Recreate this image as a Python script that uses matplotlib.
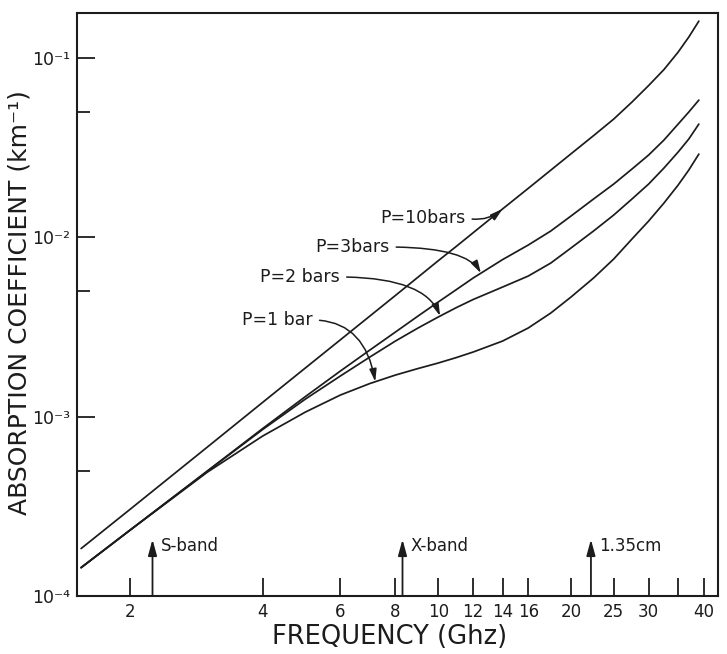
import numpy as np
import matplotlib
matplotlib.use("Agg")
import matplotlib.pyplot as plt
from matplotlib.ticker import FixedLocator, FixedFormatter, NullLocator

# Absorption coefficient (km^-1) versus frequency (GHz) at four pressures
freq_ghz = [1.55, 2, 3, 4, 5, 6, 7, 8, 9, 10, 11, 12, 14, 16, 18, 20,
            22.5, 25, 27.5, 30, 32.5, 35, 37, 39]

alpha_10bar = [1.84e-4, 3.04e-4, 6.79e-4, 1.203e-3, 1.872e-3, 2.685e-3,
               3.644e-3, 4.748e-3, 6.006e-3, 7.413e-3, 8.93e-3, 1.062e-2,
               1.443e-2, 1.878e-2, 2.373e-2, 2.926e-2, 3.696e-2, 4.573e-2,
               5.690e-2, 7.035e-2, 8.637e-2, 0.1081, 0.1311, 0.1610]

alpha_3bar = [1.44e-4, 2.328e-4, 4.994e-4, 8.597e-4, 1.296e-3, 1.798e-3,
              2.355e-3, 2.968e-3, 3.644e-3, 4.362e-3, 5.122e-3, 5.936e-3,
              7.528e-3, 9.07e-3, 1.086e-2, 1.316e-2, 1.638e-2, 1.985e-2,
              2.407e-2, 2.882e-2, 3.493e-2, 4.29e-2, 5.005e-2, 5.838e-2]

alpha_2bar = [1.44e-4, 2.328e-4, 4.981e-4, 8.487e-4, 1.255e-3, 1.687e-3,
              2.153e-3, 2.644e-3, 3.125e-3, 3.598e-3, 4.064e-3, 4.506e-3,
              5.29e-3, 6.09e-3, 7.197e-3, 8.729e-3, 1.086e-2, 1.333e-2,
              1.638e-2, 1.985e-2, 2.438e-2, 2.995e-2, 3.539e-2, 4.29e-2]

alpha_1bar = [1.44e-4, 2.328e-4, 4.917e-4, 7.806e-4, 1.062e-3, 1.321e-3,
              1.532e-3, 1.708e-3, 1.857e-3, 1.993e-3, 2.139e-3, 2.295e-3,
              2.644e-3, 3.125e-3, 3.788e-3, 4.65e-3, 5.936e-3, 7.577e-3,
              9.797e-3, 1.234e-2, 1.555e-2, 1.96e-2, 2.376e-2, 2.918e-2]

xtick_values = [2, 4, 6, 8, 10, 12, 14, 16, 20, 25, 30, 35, 40]
xtick_labels = ["2", "4", "6", "8", "10", "12", "14", "16", "20", "25", "30", "", "40"]
ytick_major = [1e-4, 1e-3, 1e-2, 1e-1]
ytick_labels = ["10⁻⁴", "10⁻³", "10⁻²", "10⁻¹"]
ytick_minor = [5e-4, 5e-3, 5e-2]

band_freqs = [2.25, 8.3, 22.2]
band_labels = ["S-band", "X-band", "1.35cm"]

pressure_labels = ["P=10bars", "P=3bars", "P=2 bars", "P=1 bar"]
pointer_freqs = [14.0, 12.5, 10.1, 7.2]

INK = "#1c1c1c"
plt.rcParams["font.family"] = ["DejaVu Sans"]
plt.rcParams["mathtext.default"] = "regular"

fig = plt.figure(figsize=(7.27, 6.54), dpi=100)
ax = fig.add_axes([77 / 727, 58 / 654, 641 / 727, 583 / 654])

series = [alpha_10bar, alpha_3bar, alpha_2bar, alpha_1bar]
for vals in series:
    ax.plot(freq_ghz, vals, color=INK, lw=1.25, solid_capstyle="round")

ax.set_xscale("log")
ax.set_yscale("log")
ax.set_xlim(1.517, 43.1)
ax.set_ylim(1e-4, 10 ** -0.748)

ax.xaxis.set_major_locator(FixedLocator(xtick_values))
ax.xaxis.set_major_formatter(FixedFormatter(xtick_labels))
ax.xaxis.set_minor_locator(NullLocator())
ax.yaxis.set_major_locator(FixedLocator(ytick_major))
ax.yaxis.set_major_formatter(FixedFormatter(ytick_labels))
ax.yaxis.set_minor_locator(FixedLocator(ytick_minor))

ax.tick_params(axis="x", which="major", direction="in", length=13, width=1.3,
               labelsize=12, pad=5, colors=INK)
ax.tick_params(axis="y", which="major", direction="in", length=13, width=1.3,
               labelsize=12.5, pad=5, colors=INK)
ax.tick_params(axis="y", which="minor", direction="in", length=9, width=1.3,
               colors=INK)
for sp in ax.spines.values():
    sp.set_linewidth(1.5)
    sp.set_color(INK)

ax.set_xlabel("FREQUENCY (Ghz)", fontsize=18.5, color=INK)
ax.xaxis.label.set_va("center")
ax.xaxis.set_label_coords(0.488, -0.0703)
ax.set_ylabel("ABSORPTION COEFFICIENT (km⁻¹)", fontsize=18, color=INK)
ax.yaxis.label.set_va("center")
ax.yaxis.set_label_coords(-0.09, 0.504)

# Band markers along the frequency axis
xtrans = ax.get_xaxis_transform()
for f, lab in zip(band_freqs, band_labels):
    ax.annotate("", xy=(f, 0.097), xycoords=xtrans, xytext=(f, 0.0),
                textcoords=xtrans,
                arrowprops=dict(arrowstyle="-|>,head_length=0.8,head_width=0.22",
                                mutation_scale=12, lw=1.3, color=INK,
                                shrinkA=0, shrinkB=0))
    ax.annotate(lab, xy=(f, 0.085), xycoords=xtrans, xytext=(6, 0),
                textcoords="offset points", ha="left", va="center",
                fontsize=12, color=INK)

# Pressure labels with curved pointers onto each curve
text_pos = [(0.4727, 0.6484), (0.3713, 0.5986), (0.2855, 0.5472), (0.2574, 0.4734)]
conn = ["arc3,rad=0.25",
        "angle3,angleA=0,angleB=120",
        "angle3,angleA=0,angleB=112",
        "angle3,angleA=0,angleB=100"]
lf = np.log10(freq_ghz)
for lab, ftip, vals, pos, cs in zip(pressure_labels, pointer_freqs, series, text_pos, conn):
    atip = 10 ** np.interp(np.log10(ftip), lf, np.log10(vals))
    ax.annotate(lab, xy=(ftip, atip), xycoords="data", xytext=pos,
                textcoords="axes fraction", ha="left", va="center",
                fontsize=12.5, color=INK,
                arrowprops=dict(arrowstyle="-|>,head_length=0.6,head_width=0.17",
                                connectionstyle=cs, lw=1.1, color=INK,
                                relpos=(1.0, 0.5), shrinkA=3, shrinkB=0))

fig.savefig("out.png", dpi=100, facecolor="white")
